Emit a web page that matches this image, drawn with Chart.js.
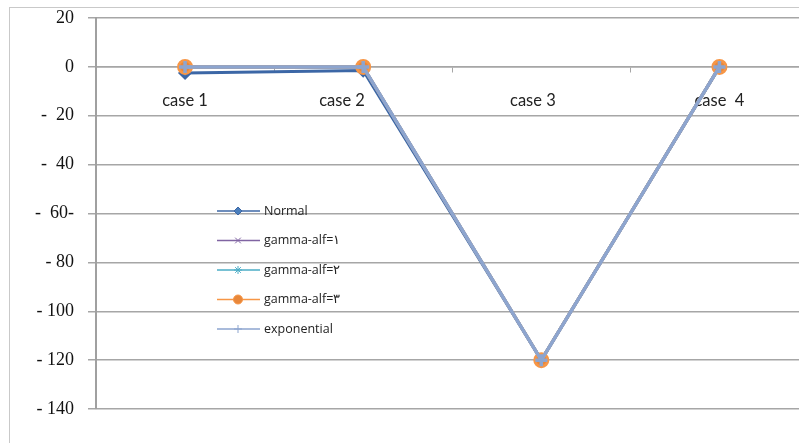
<!DOCTYPE html>
<html>
<head>
<meta charset="utf-8">
<script src="https://cdn.jsdelivr.net/npm/chart.js@4.4.0/dist/chart.umd.min.js"></script>
<style>
html, body { margin: 0; padding: 0; background: #fff; overflow: hidden; }
#frame { position: absolute; left: 9px; top: 7px; width: 900px; height: 600px; border: 1px solid #c9c9c9; }
#wrap { position: absolute; left: 0; top: 0; width: 818px; height: 443px; }
</style>
</head>
<body>
<div id="frame"></div>
<div id="wrap"><canvas id="myChart"></canvas></div>
<script>
// categories (odd spacing kept roughly like the original labels)
var categories = ['case 1', 'case 2          ', 'case 3    ', 'case  4'];

var normal      = [-2.5, -1.5, -120, 0];
var gammaAlf1   = [0, 0, -120, 0];
var gammaAlf2   = [0, 0, -120, 0];
var gammaAlf3   = [0, 0, -120, 0];
var exponential = [0, 0, -120, 0];

var seriesNames = ['Normal', 'gamma-alf=\u0661', 'gamma-alf=\u0662', 'gamma-alf=\u0663', 'exponential'];

// y tick texts as printed on the original
var yTickValues = [20, 0, -20, -40, -60, -80, -100, -120, -140];
var yTickTexts  = ['20', '0', '-  20', '-  40', '-  60-', '- 80', '- 100', '- 120', '- 140'];

var data = {
  labels: categories,
  datasets: [{
    label: seriesNames[0],
    data: normal,
    borderColor: '#3c67a6',
    backgroundColor: '#4a7ebb',
    pointStyle: 'rectRot',
    pointRadius: 5,
    borderWidth: 3,
    order: 4
  }, {
    label: seriesNames[1],
    data: gammaAlf1,
    borderColor: '#8064a2',
    backgroundColor: '#8064a2',
    pointStyle: 'crossRot',
    pointRadius: 6,
    borderWidth: 3,
    order: 3
  }, {
    label: seriesNames[2],
    data: gammaAlf2,
    borderColor: '#4bacc6',
    backgroundColor: '#4bacc6',
    pointStyle: 'star',
    pointRadius: 6,
    borderWidth: 3,
    order: 2
  }, {
    label: seriesNames[3],
    data: gammaAlf3,
    borderColor: '#f79646',
    backgroundColor: '#e8873a',
    pointStyle: 'circle',
    pointRadius: 6.5,
    borderWidth: 3,
    order: 1
  }, {
    label: seriesNames[4],
    data: exponential,
    borderColor: '#8da5cf',
    backgroundColor: '#8da5cf',
    pointStyle: 'cross',
    pointRadius: 6,
    borderWidth: 3.5,
    order: 0
  }]
};

var legendInside = {
  id: 'legendInside',
  afterDraw: function(chart) {
    var ctx = chart.ctx;
    var x0 = 217, y0 = 211, gap = 29.5;
    chart.data.datasets.forEach(function(ds, i) {
      var y = y0 + i * gap;
      ctx.save();
      ctx.strokeStyle = ds.borderColor;
      ctx.lineWidth = 1.5;
      ctx.beginPath();
      ctx.moveTo(x0, y);
      ctx.lineTo(x0 + 43, y);
      ctx.stroke();
      ctx.fillStyle = ds.backgroundColor;
      ctx.strokeStyle = ds.borderColor;
      ctx.lineWidth = 1;
      Chart.helpers.drawPoint(ctx, {
        pointStyle: ds.pointStyle,
        radius: ds.pointStyle == 'circle' ? 4.5 : 4,
        rotation: 0,
        borderWidth: 1
      }, x0 + 21, y);
      ctx.fillStyle = '#222';
      ctx.font = '12.5px "Open Sans"';
      ctx.textAlign = 'left';
      ctx.textBaseline = 'middle';
      ctx.fillText(ds.label, x0 + 47, y);
      ctx.restore();
    });
  }
};

var config = {
  type: 'line',
  data: data,
  options: {
    responsive: true,
    maintainAspectRatio: false,
    animation: false,
    layout: { padding: { top: 18, bottom: 34, left: 0, right: 2 } },
    plugins: {
      legend: { display: false },
      tooltip: { enabled: false }
    },
    elements: { line: { tension: 0 } },
    scales: {
      x: {
        position: { y: 0 },
        offset: true,
        afterFit: function(scale) {
          scale.paddingLeft = 0; scale.paddingRight = 0;
          scale.paddingTop = 0; scale.paddingBottom = 0;
        },
        grid: {
          offset: true,
          drawOnChartArea: false,
          drawTicks: true,
          tickLength: 5,
          color: '#a6a6a6'
        },
        border: { color: '#a6a6a6', width: 1.5 },
        ticks: {
          font: { family: 'Lato', size: 16.5 },
          color: '#222',
          padding: 19,
          maxRotation: 0,
          autoSkip: false
        }
      },
      y: {
        min: -140,
        max: 20,
        afterFit: function(scale) {
          scale.width = 96;
          scale.paddingTop = 0; scale.paddingBottom = 0;
        },
        afterBuildTicks: function(scale) {
          scale.ticks = yTickValues.map(function(v) { return { value: v }; });
        },
        grid: {
          color: '#a6a6a6',
          lineWidth: 1.5,
          tickLength: 8
        },
        border: { color: '#a0a0a0', width: 2 },
        ticks: {
          font: { family: 'Liberation Serif', size: 18 },
          color: '#111',
          padding: 14,
          callback: function(value) {
            var i = yTickValues.indexOf(value);
            return i >= 0 ? yTickTexts[i] : '';
          }
        }
      }
    }
  },
  plugins: [legendInside]
};

var myChart = new Chart(document.getElementById('myChart'), config);
</script>
</body>
</html>
